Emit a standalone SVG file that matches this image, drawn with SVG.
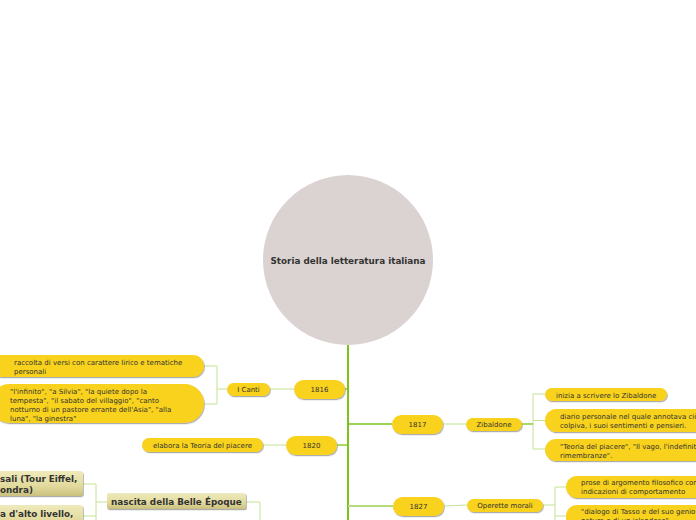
<svg xmlns="http://www.w3.org/2000/svg" width="696" height="520" viewBox="0 0 696 520">
<style>
.t{font-family:"DejaVu Sans",Verdana,sans-serif;font-size:7px;fill:#333}
.tb{font-family:"DejaVu Sans",Verdana,sans-serif;font-size:8.8px;font-weight:bold;fill:#333}
.c{text-anchor:middle}
.p{fill:#f8d21c;filter:url(#sh)}
.k{fill:url(#kg);filter:url(#sh)}
.ln{fill:none;stroke:#c2e496;stroke-width:1}
.ld{fill:none;stroke:#7cc41a;stroke-width:1.3}
</style>
<defs>
<filter id="sh" x="-10%" y="-30%" width="120%" height="180%">
<feDropShadow dx="0.8" dy="1.2" stdDeviation="0.6" flood-color="#777" flood-opacity="0.6"/>
</filter>
<linearGradient id="kg" x1="0" y1="0" x2="0" y2="1">
<stop offset="0" stop-color="#efeabc"/>
<stop offset="0.6" stop-color="#e2da9c"/>
<stop offset="1" stop-color="#c9c07e"/>
</linearGradient>
</defs>
<rect width="696" height="520" fill="#fff"/>
<g id="connectors">
<line x1="348" y1="345" x2="348" y2="520" stroke="#7cc41a" stroke-width="2"/>
<line class="ld" x1="345" y1="389" x2="348" y2="389"/>
<line class="ld" x1="348" y1="424" x2="392" y2="424"/>
<line class="ld" x1="337" y1="445" x2="348" y2="445"/>
<line x1="348" y1="506" x2="393" y2="506" stroke="#b4dc7e" stroke-width="2"/>
<line class="ln" x1="270" y1="389" x2="294" y2="389"/>
<path class="ln" d="M204 366 H217 V404 H204 M217 389 H227"/>
<line class="ln" x1="263" y1="445" x2="286" y2="445"/>
<line class="ln" x1="443" y1="424" x2="466" y2="424"/>
<path class="ln" d="M545 394 H533 V449 H545 M533 420.5 H545"/>
<line class="ld" x1="522" y1="424" x2="533" y2="424"/>
<line class="ln" x1="444" y1="506" x2="467" y2="505"/>
<path class="ln" d="M566 487 H555 V520 M555 516 H566 M543 505 H555"/>
<path class="ln" d="M246 502 H260 V520"/>
<path class="ln" d="M83 484 H96 V520 M83 516 H96 M96 502 H107"/>
</g>
<g id="root">
<circle cx="348" cy="260" r="85" fill="#dbd3d1"/>
<text class="tb c" x="348" y="263.5">Storia della letteratura italiana</text>
</g>
<g id="n1816"><rect class="p" x="294" y="380" width="51" height="19" rx="9.5"/><text class="t c" x="319.5" y="392">1816</text></g>
<g id="n1817"><rect class="p" x="392" y="415" width="51" height="19" rx="9.5"/><text class="t c" x="417.5" y="427">1817</text></g>
<g id="n1820"><rect class="p" x="286" y="436" width="51" height="19" rx="9.5"/><text class="t c" x="311.5" y="448">1820</text></g>
<g id="n1827"><rect class="p" x="393" y="497" width="51" height="19" rx="9.5"/><text class="t c" x="418.5" y="509">1827</text></g>
<g id="canti"><rect class="p" x="227" y="383" width="43" height="13" rx="6.5"/><text class="t c" x="248.5" y="392">I Canti</text></g>
<g id="raccolta"><rect class="p" x="-10" y="355" width="214" height="22" rx="11"/>
<text class="t" x="14" y="365">raccolta di versi con carattere lirico e tematiche</text>
<text class="t" x="14" y="374">personali</text></g>
<g id="infinito"><rect class="p" x="-10" y="384" width="214" height="39" rx="19.5"/>
<text class="t" x="10" y="394">"l'infinito", "a Silvia", "la quiete dopo la</text>
<text class="t" x="10" y="403">tempesta", "il sabato del villaggio", "canto</text>
<text class="t" x="10" y="412">notturno di un pastore errante dell'Asia", "alla</text>
<text class="t" x="10" y="421">luna", "la ginestra"</text></g>
<g id="elabora"><rect class="p" x="142" y="438" width="121" height="14" rx="7"/><text class="t c" x="202.5" y="447.5">elabora la Teoria del piacere</text></g>
<g id="zibaldone"><rect class="p" x="466" y="418" width="56" height="13" rx="6.5"/><text class="t c" x="494" y="427">Zibaldone</text></g>
<g id="inizia"><rect class="p" x="545" y="388" width="122" height="13" rx="6.5"/><text class="t" x="556" y="397.5">inizia a scrivere lo Zibaldone</text></g>
<g id="diario"><rect class="p" x="545" y="409" width="170" height="23" rx="11.5"/>
<text class="t" x="560" y="419">diario personale nel quale annotava ciò</text>
<text class="t" x="560" y="428">colpiva, i suoi sentimenti e pensieri.</text></g>
<g id="teoria"><rect class="p" x="545" y="439" width="170" height="22" rx="11"/>
<text class="t" x="560" y="449">"Teoria del piacere", "Il vago, l'indefinito</text>
<text class="t" x="560" y="458">rimembranze".</text></g>
<g id="operette"><rect class="p" x="467" y="499" width="76" height="13" rx="6.5"/><text class="t c" x="505" y="508">Operette morali</text></g>
<g id="prose"><rect class="p" x="566" y="476" width="150" height="22" rx="11"/>
<text class="t" x="581" y="485">prose di argomento filosofico con</text>
<text class="t" x="581" y="494">indicazioni di comportamento</text></g>
<g id="dialogo"><rect class="p" x="566" y="505" width="150" height="30" rx="11"/>
<text class="t" x="581" y="514">"dialogo di Tasso e del suo genio</text>
<text class="t" x="581" y="523">natura e di un islandese"</text></g>
<g id="belle"><rect class="k" x="107" y="493" width="139" height="16" rx="2"/><text class="tb" x="111" y="504.5">nascita della Belle Époque</text></g>
<g id="esposizioni"><rect class="k" x="-10" y="471" width="93" height="25" rx="3"/>
<text class="tb" x="0" y="481.5">sali (Tour Eiffel,</text>
<text class="tb" x="0" y="492.5">ondra)</text></g>
<g id="alto"><rect class="k" x="-10" y="505" width="93" height="25" rx="3"/>
<text class="tb" x="0" y="516.5">a d'alto livello,</text></g>
</svg>
